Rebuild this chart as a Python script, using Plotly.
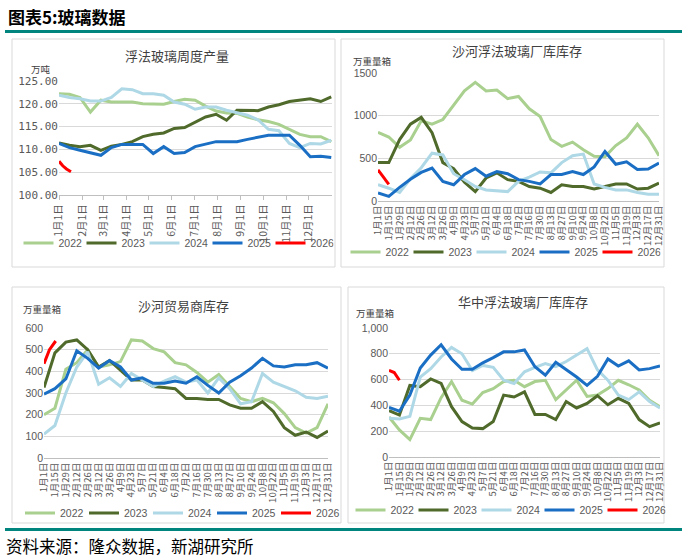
import plotly.graph_objects as go

W, H = 689, 557

YEARS = ["2022", "2023", "2024", "2025", "2026"]
COLORS = ["#A9D08E", "#4F6A2A", "#AED8E6", "#1A6FC4", "#FF0000"]

# ---------- Panel 1: 浮法玻璃周度产量 (万吨) ----------
p1_tick_days = [0, 31, 59, 90, 120, 151, 181, 212, 243, 273, 304, 334]
p1_tick_labels = ["1月1日", "2月1日", "3月1日", "4月1日", "5月1日", "6月1日",
                  "7月1日", "8月1日", "9月1日", "10月1日", "11月1日", "12月1日"]
p1_days = list(range(0, 365, 14))
p1_2022 = [122.2, 122.1, 121.4, 118.2, 120.8, 120.4, 120.4, 120.4, 120.0, 119.9, 119.9, 120.5, 121.0, 120.8,
           119.5, 118.4, 118.0, 117.9, 117.1, 116.5, 116.1, 115.5, 114.4, 113.3, 112.8, 112.8, 111.7]
p1_2023 = [111.4, 110.9, 110.6, 110.9, 109.8, 110.7, 111.1, 111.7, 112.8, 113.3, 113.6, 114.6, 114.8, 115.9,
           117.1, 117.7, 116.4, 118.6, 118.5, 118.5, 119.3, 119.8, 120.5, 120.8, 121.1, 120.5, 121.5]
p1_2024 = [121.9, 121.4, 121.1, 120.6, 120.6, 121.4, 123.3, 123.1, 122.2, 122.2, 121.9, 120.4, 119.9, 118.8,
           119.3, 119.3, 118.6, 118.0, 117.5, 116.5, 114.4, 114.1, 111.3, 110.4, 111.3, 111.2, 112.0]
p1_2025 = [111.3, 110.4, 109.8, 109.3, 108.7, 110.4, 111.1, 111.1, 111.1, 109.1, 110.6, 109.1, 109.3, 110.6,
           111.1, 111.7, 111.7, 111.7, 112.2, 112.6, 113.1, 113.1, 113.1, 110.9, 108.4, 108.5, 108.2]
p1_2026_days = [0, 5, 10, 16]
p1_2026 = [107.4, 106.4, 105.7, 105.1]

# ---------- shared biweekly axis for panels 2-4 ----------
bw_days = list(range(0, 365, 14))
bw_labels = ["1月1日", "1月15日", "1月29日", "2月12日", "2月26日", "3月12日", "3月26日", "4月9日",
             "4月23日", "5月7日", "5月21日", "6月4日", "6月18日", "7月2日", "7月16日", "7月30日",
             "8月13日", "8月27日", "9月10日", "9月24日", "10月8日", "10月22日", "11月5日", "11月19日",
             "12月3日", "12月17日", "12月31日"]

# ---------- Panel 2: 沙河浮法玻璃厂库库存 (万重量箱) ----------
p2_2022 = [805, 750, 630, 715, 940, 900, 955, 1120, 1290, 1390, 1290, 1300, 1200, 1225, 1080, 990, 720, 640,
           690, 600, 525, 520, 650, 740, 900, 740, 530]
p2_2023 = [450, 450, 720, 900, 980, 800, 450, 380, 220, 110, 270, 330, 250, 230, 170, 150, 100, 190, 170, 170,
           140, 170, 200, 200, 140, 150, 210]
p2_2024 = [190, 150, 100, 260, 390, 560, 540, 320, 250, 170, 130, 120, 110, 230, 280, 340, 330, 450, 530, 550,
           200, 160, 130, 130, 100, 80, 80]
p2_2025 = [95, 55, 160, 255, 335, 385, 230, 190, 310, 380, 290, 345, 320, 250, 230, 200, 310, 310, 345, 310,
           400, 580, 430, 460, 370, 375, 445]
p2_2026_days = [0, 7, 14]
p2_2026 = [365, 280, 195]

# ---------- Panel 3: 沙河贸易商库存 (万重量箱) ----------
p3_2022 = [200, 230, 410, 440, 500, 420, 430, 445, 545, 540, 505, 490, 440, 430, 395, 350, 385, 330, 275, 260,
           275, 255, 205, 140, 115, 140, 250]
p3_2023 = [325, 485, 535, 545, 500, 420, 450, 405, 360, 360, 330, 325, 320, 275, 275, 270, 270, 245, 230, 230,
           260, 215, 140, 105, 120, 95, 125]
p3_2024 = [110, 150, 300, 420, 490, 340, 370, 330, 390, 360, 330, 355, 375, 350, 360, 300, 370, 320, 250, 260,
           390, 350, 330, 310, 280, 275, 285]
p3_2025 = [295, 320, 365, 495, 460, 415, 450, 420, 360, 370, 345, 345, 355, 345, 375, 335, 300, 350, 380, 415,
           460, 425, 420, 430, 430, 440, 415]
p3_2026_days = [0, 7, 15]
p3_2026 = [435, 500, 540]

# ---------- Panel 4: 华中浮法玻璃厂库库存 (万重量箱) ----------
p4_2022 = [310, 210, 135, 300, 290, 460, 585, 440, 410, 500, 530, 585, 595, 545, 585, 595, 445, 520, 595, 470,
           480, 530, 595, 560, 520, 440, 390]
p4_2023 = [360, 325, 555, 545, 605, 570, 390, 275, 225, 220, 275, 480, 465, 505, 330, 330, 290, 430, 380, 415,
           475, 405, 455, 415, 290, 235, 265]
p4_2024 = [300, 295, 315, 620, 685, 775, 850, 800, 670, 710, 695, 595, 570, 660, 695, 725, 700, 740, 790, 840,
           675, 595, 480, 445, 505, 430, 380]
p4_2025 = [385, 355, 480, 690, 790, 870, 760, 680, 680, 730, 770, 815, 815, 830, 700, 635, 735, 680, 620, 555,
           625, 760, 705, 745, 675, 685, 705]
p4_2026_days = [0, 7, 14]
p4_2026 = [672, 655, 595]


def fx(px):
    return px / W


def fy(py):
    return 1 - py / H


CJK = "Noto Sans CJK SC"
GRAY = "#595959"

fig = go.Figure()

panels = [
    ("", "", "legend", [(p1_days, p1_2022), (p1_days, p1_2023), (p1_days, p1_2024), (p1_days, p1_2025),
                        (p1_2026_days, p1_2026)]),
    ("2", "2", "legend2", [(bw_days, p2_2022), (bw_days, p2_2023), (bw_days, p2_2024), (bw_days, p2_2025),
                           (p2_2026_days, p2_2026)]),
    ("3", "3", "legend3", [(bw_days, p3_2022), (bw_days, p3_2023), (bw_days, p3_2024), (bw_days, p3_2025),
                           (p3_2026_days, p3_2026)]),
    ("4", "4", "legend4", [(bw_days, p4_2022), (bw_days, p4_2023), (bw_days, p4_2024), (bw_days, p4_2025),
                           (p4_2026_days, p4_2026)]),
]

for ax, ay, lg, series in panels:
    for (xs, ys), name, col in zip(series, YEARS, COLORS):
        fig.add_trace(go.Scatter(x=xs, y=ys, mode="lines", name=name,
                                 line=dict(color=col, width=3),
                                 xaxis="x" + ax, yaxis="y" + ay, legend=lg, hoverinfo="skip"))

# plot-area pixel boxes: (x0, x1, ytop, ybottom)
areas = {
    "1": (59, 332, 81, 195),
    "2": (378, 659, 73, 201),
    "3": (44, 328, 328, 458),
    "4": (389, 660, 328, 457),
}

layout = dict(
    width=W, height=H, margin=dict(l=0, r=0, t=0, b=0, autoexpand=False),
    paper_bgcolor="white", plot_bgcolor="white", showlegend=True,
    font=dict(family="Liberation Sans", color=GRAY),
)


def xax(area, tickvals, ticktext, rng, fs, ticks):
    x0, x1, yt, yb = area
    d = dict(domain=[fx(x0), fx(x1)], range=rng, tickmode="array", tickvals=tickvals, ticktext=ticktext,
             tickangle=-90, tickfont=dict(family=CJK, size=fs, color=GRAY), showgrid=False,
             showline=True, linecolor="#BFBFBF", linewidth=1, zeroline=False, fixedrange=True,
             automargin=False)
    if ticks:
        d.update(ticks="outside", ticklen=4, tickcolor="#BFBFBF")
    return d


def yax(area, rng, dtick, fmt, family, fs):
    x0, x1, yt, yb = area
    return dict(domain=[fy(yb), fy(yt)], range=rng, dtick=dtick, tickformat=fmt,
                tickfont=dict(family=family, size=fs, color=GRAY), showgrid=True, gridcolor="#D9D9D9",
                gridwidth=1, zeroline=False, showline=False, ticks="", fixedrange=True, automargin=False)


layout["xaxis"] = xax(areas["1"], p1_tick_days, p1_tick_labels, [0, 365], 10.5, True)
layout["yaxis"] = yax(areas["1"], [100, 125], 5, ".2f", "DejaVu Sans Mono", 11)
layout["yaxis"]["anchor"] = "x"
layout["xaxis"]["anchor"] = "y"
for k, rng, dt, fmt in [("2", [0, 1500], 500, "d"), ("3", [0, 600], 100, "d"), ("4", [0, 1000], 200, ",d")]:
    layout["xaxis" + k] = xax(areas[k], bw_days, bw_labels, [0, 364], 9.5, False)
    layout["xaxis" + k]["anchor"] = "y" + k
    layout["yaxis" + k] = yax(areas[k], rng, dt, fmt, "Liberation Sans", 10.5)
    layout["yaxis" + k]["anchor"] = "x" + k


def legend(cx, cy, ew):
    return dict(orientation="h", x=fx(cx), y=fy(cy), xanchor="center", yanchor="middle",
                font=dict(family="Liberation Sans", size=10.5, color=GRAY), bgcolor="rgba(0,0,0,0)",
                itemwidth=30, itemclick=False, itemdoubleclick=False,
                entrywidth=ew, entrywidthmode="pixels", tracegroupgap=0)


layout["legend"] = legend(176, 243, 18)
layout["legend2"] = legend(503, 252, 18)
layout["legend3"] = legend(180, 513, 19)
layout["legend4"] = legend(508, 510, 18)

shapes = []
# panel frames
for x0, y0, x1, y1 in [(12, 39, 335, 267), (341, 39, 664, 267), (12, 287, 341, 523), (348, 287, 664, 523)]:
    shapes.append(dict(type="rect", xref="paper", yref="paper", x0=fx(x0), x1=fx(x1), y0=fy(y1), y1=fy(y0),
                       line=dict(color="#D9D9D9", width=1), fillcolor="rgba(0,0,0,0)"))
# teal rules
for yy in (31.5, 529.5):
    shapes.append(dict(type="line", xref="paper", yref="paper", x0=fx(5), x1=fx(682), y0=fy(yy), y1=fy(yy),
                       line=dict(color="#00857E", width=3)))
layout["shapes"] = shapes

ann = []


def text(t, x, y, size, color="#404040", xanchor="center", bold=False):
    ann.append(dict(text=("<b>%s</b>" % t) if bold else t, x=fx(x), y=fy(y), xref="paper", yref="paper",
                    showarrow=False, xanchor=xanchor, yanchor="middle",
                    font=dict(family=CJK, size=size, color=color)))


text("图表5:玻璃数据", 6, 17, 17, color="#000000", xanchor="left", bold=True)
text("资料来源：隆众数据，新湖研究所", 4, 546, 16.5, color="#000000", xanchor="left")
text("浮法玻璃周度产量", 177, 55, 13)
text("沙河浮法玻璃厂库库存", 517, 50, 13)
text("沙河贸易商库存", 183, 305, 13)
text("华中浮法玻璃厂库库存", 523, 301, 13)
text("万吨", 41, 69, 9.5)
text("万重量箱", 372, 61, 9.5)
text("万重量箱", 42, 309, 9.5)
text("万重量箱", 375, 313, 9.5)
layout["annotations"] = ann

fig.update_layout(**layout)
fig.write_html("out.html", config={"displayModeBar": False},
               post_script="document.body.style.margin='0';document.body.style.padding='0';"
                           "document.body.style.overflow='hidden';")
